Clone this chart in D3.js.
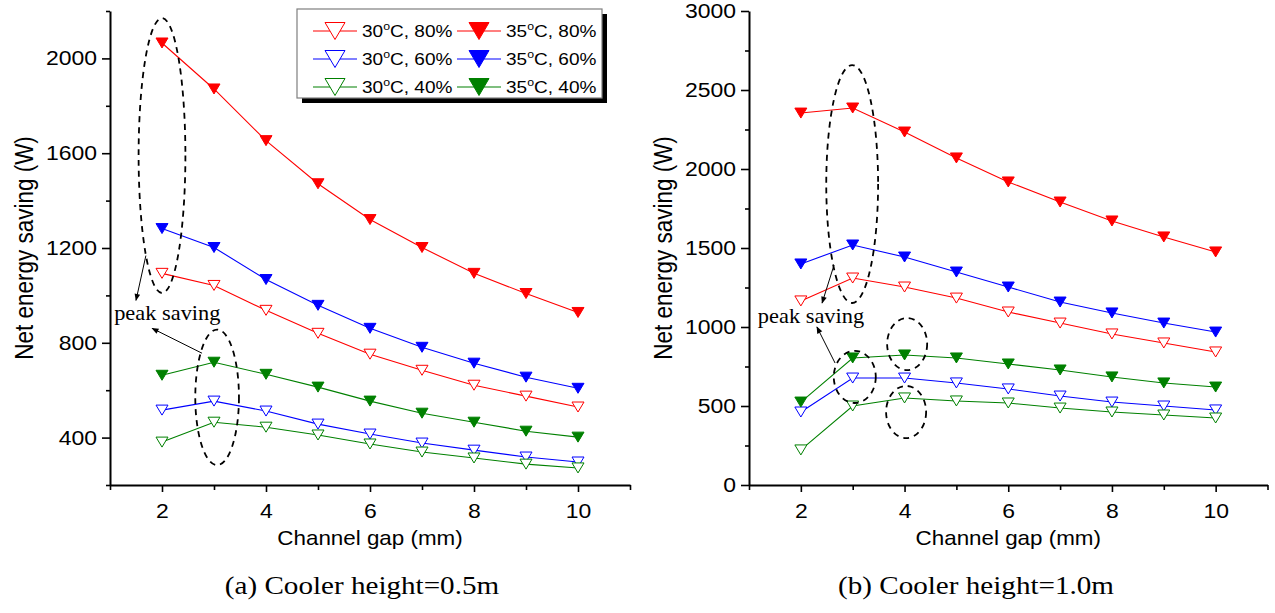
<!DOCTYPE html>
<html>
<head>
<meta charset="utf-8">
<script src="https://cdn.jsdelivr.net/npm/d3@7"></script>
<style>
  body { margin: 0; background: #fff; }
  text { fill: #000; }
</style>
</head>
<body>
<svg id="chart" width="1275" height="613"></svg>
<script>
// channel gap (mm)
const gaps = [2, 3, 4, 5, 6, 7, 8, 9, 10];
const seriesNames = ["30°C, 80%", "35°C, 80%", "30°C, 60%", "35°C, 60%", "30°C, 40%", "35°C, 40%"];
const seriesColors = ["#ff0000", "#ff0000", "#0000ff", "#0000ff", "#008000", "#008000"];
const seriesFilled = [false, true, false, true, false, true];

// (a) cooler height 0.5 m
const a_30_80 = [1093, 1042, 937, 840, 752, 684, 621, 575, 529];
const a_35_80 = [2065, 1871, 1653, 1471, 1320, 1202, 1093, 1008, 928];
const a_30_60 = [516, 554, 512, 457, 415, 377, 347, 318, 297];
const a_35_60 = [1282, 1202, 1067, 958, 861, 781, 714, 655, 608];
const a_30_40 = [381, 465, 444, 411, 373, 339, 314, 288, 272];
const a_35_40 = [663, 718, 667, 613, 554, 503, 465, 427, 402];

// (b) cooler height 1.0 m
const b_30_80 = [1165, 1310, 1253, 1183, 1095, 1025, 956, 899, 842];
const b_35_80 = [2354, 2386, 2234, 2070, 1918, 1791, 1671, 1570, 1475];
const b_30_60 = [462, 677, 677, 646, 608, 563, 525, 500, 475];
const b_35_60 = [1399, 1519, 1443, 1348, 1253, 1158, 1089, 1025, 968];
const b_30_40 = [222, 500, 551, 532, 519, 487, 462, 443, 424];
const b_35_40 = [525, 804, 823, 804, 766, 728, 684, 646, 620];

const xMajor = [2, 4, 6, 8, 10];
const xMinor = [1, 3, 5, 7, 9, 11];
const aMajor = [400, 800, 1200, 1600, 2000];
const aMinor = [200, 600, 1000, 1400, 1800, 2200];
const bMajor = [0, 500, 1000, 1500, 2000, 2500, 3000];
const bMinor = [250, 750, 1250, 1750, 2250, 2750];

// annotations in data units: dashed ellipses, arrows, label
const aEllipses = [{cx: 2.0, cy: 1590, rx: 0.45, ry: 580}, {cx: 3.06, cy: 570, rx: 0.42, ry: 286}];
const aArrows = [{x1: 1.69, y1: 1168, x2: 1.5, y2: 979}, {x1: 2.77, y1: 756, x2: 1.81, y2: 861}];
const aLabel = {x: 1.08, y: 895};
const bEllipses = [{cx: 2.99, cy: 1905, rx: 0.5, ry: 753}, {cx: 3.04, cy: 684, rx: 0.405, ry: 165},
                   {cx: 4.05, cy: 892, rx: 0.386, ry: 165}, {cx: 4.03, cy: 462, rx: 0.386, ry: 165}];
const bArrows = [{x1: 2.64, y1: 1392, x2: 2.41, y2: 1152}, {x1: 2.66, y1: 772, x2: 2.31, y2: 1000}];
const bLabel = {x: 1.17, y: 1025};

const SX = 1.12; // the picture is a little wider than tall
const sans = "'Liberation Sans', Arial, sans-serif";
const serif = "'Liberation Serif', 'Times New Roman', serif";
const svg = d3.select("#chart");

svg.append("defs").append("marker")
    .attr("id", "arrow")
    .attr("viewBox", "0 0 10 10")
    .attr("refX", 9).attr("refY", 5)
    .attr("markerWidth", 9).attr("markerHeight", 7)
    .attr("markerUnits", "userSpaceOnUse")
    .attr("orient", "auto")
  .append("path")
    .attr("d", "M0,1L10,5L0,9z")
    .attr("fill", "#000");

function stretch(sel) {
    sel.each(function() {
        const t = d3.select(this);
        const x = +t.attr("x") || 0, y = +t.attr("y") || 0;
        t.attr("x", 0).attr("y", 0)
         .attr("transform", `translate(${x},${y}) scale(${SX},1)`);
    });
}

function tri(w, h) {
    return `M${-w / 2},${-h / 2}L${w / 2},${-h / 2}L0,${h / 2}Z`;
}

function panel(opt) {
    const x = d3.scaleLinear().domain([1, 11]).range([opt.left, opt.right]);
    const y = d3.scaleLinear().domain(opt.yDomain).range([485, 11]);
    const g = svg.append("g");

    // minor ticks
    g.append("g").attr("transform", "translate(0,485)")
        .call(d3.axisBottom(x).tickValues(xMinor).tickSize(5).tickFormat("").tickSizeOuter(0))
        .call(s => s.select(".domain").remove());
    g.append("g").attr("transform", `translate(${opt.left},0)`)
        .call(d3.axisLeft(y).tickValues(opt.yMinor).tickSize(4).tickFormat("").tickSizeOuter(0))
        .call(s => s.select(".domain").remove());

    const gx = g.append("g").attr("transform", "translate(0,485)")
        .call(d3.axisBottom(x).tickValues(xMajor).tickSize(7).tickPadding(11)
            .tickFormat(d3.format("d")).tickSizeOuter(0));
    const gy = g.append("g").attr("transform", `translate(${opt.left},0)`)
        .call(d3.axisLeft(y).tickValues(opt.yMajor).tickSize(8).tickPadding(5)
            .tickFormat(d3.format("d")).tickSizeOuter(0));

    g.selectAll(".tick line").attr("stroke-width", 1.6);
    g.selectAll(".domain").attr("stroke-width", 2);
    [gx, gy].forEach(a => a.selectAll("text")
        .attr("font-family", sans)
        .attr("font-size", 20.5).attr("fill", "#000")
        .call(stretch));

    // axis titles
    g.append("text")
        .attr("x", (opt.left + opt.right) / 2).attr("y", 545)
        .attr("text-anchor", "middle")
        .attr("font-family", sans)
        .attr("font-size", 20)
        .text("Channel gap (mm)")
        .call(stretch);
    g.append("text")
        .attr("transform", `translate(${opt.left - 86},248) scale(${SX},1) rotate(-90)`)
        .attr("dy", "0.35em")
        .attr("text-anchor", "middle")
        .attr("font-family", sans)
        .attr("font-size", 22.5)
        .text("Net energy saving (W)");

    // series
    const line = d3.line().x((d, i) => x(gaps[i])).y(d => y(d));
    opt.series.forEach((vals, k) => {
        g.append("path")
            .datum(vals)
            .attr("fill", "none")
            .attr("stroke", seriesColors[k])
            .attr("stroke-width", 1.1)
            .attr("d", line);
    });
    opt.series.forEach((vals, k) => {
        g.selectAll(null)
            .data(vals)
            .enter().append("path")
            .attr("transform", (d, i) => `translate(${x(gaps[i])},${y(d)})`)
            .attr("d", tri(12, 10))
            .attr("fill", seriesFilled[k] ? seriesColors[k] : "#fff")
            .attr("stroke", seriesColors[k])
            .attr("stroke-width", 1);
    });

    // annotations
    g.selectAll(null)
        .data(opt.ellipses)
        .enter().append("ellipse")
        .attr("cx", d => x(d.cx)).attr("cy", d => y(d.cy))
        .attr("rx", d => x(1 + d.rx) - x(1))
        .attr("ry", d => y(0) - y(d.ry))
        .attr("fill", "none")
        .attr("stroke", "#000")
        .attr("stroke-width", 1.8)
        .attr("stroke-dasharray", "6,5");
    g.selectAll(null)
        .data(opt.arrows)
        .enter().append("line")
        .attr("x1", d => x(d.x1)).attr("y1", d => y(d.y1))
        .attr("x2", d => x(d.x2)).attr("y2", d => y(d.y2))
        .attr("stroke", "#000")
        .attr("stroke-width", 1)
        .attr("marker-end", "url(#arrow)");
    g.append("text")
        .attr("x", x(opt.label.x)).attr("y", y(opt.label.y))
        .attr("font-family", serif)
        .attr("font-size", 20)
        .text("peak saving")
        .call(stretch);

    // caption
    svg.append("text")
        .attr("x", opt.captionX).attr("y", 594)
        .attr("text-anchor", "middle")
        .attr("font-family", serif)
        .attr("font-size", 26)
        .text(opt.caption)
        .call(stretch);
}

panel({
    left: 110, right: 630, yDomain: [200, 2200], yMajor: aMajor, yMinor: aMinor,
    series: [a_30_80, a_35_80, a_30_60, a_35_60, a_30_40, a_35_40],
    ellipses: aEllipses, arrows: aArrows, label: aLabel,
    caption: "(a) Cooler height=0.5m", captionX: 362
});
panel({
    left: 749, right: 1267.5, yDomain: [0, 3000], yMajor: bMajor, yMinor: bMinor,
    series: [b_30_80, b_35_80, b_30_60, b_35_60, b_30_40, b_35_40],
    ellipses: bEllipses, arrows: bArrows, label: bLabel,
    caption: "(b) Cooler height=1.0m", captionX: 976
});

// legend (inside panel a)
const lg = svg.append("g");
lg.append("rect").attr("x", 302).attr("y", 14).attr("width", 305).attr("height", 89).attr("fill", "#000");
lg.append("rect").attr("x", 297).attr("y", 9).attr("width", 305).attr("height", 89)
    .attr("fill", "#fff").attr("stroke", "#7f7f7f").attr("stroke-width", 1.2);
const colX = [313, 457];
seriesNames.forEach((name, k) => {
    const cx = colX[k % 2], cy = 31 + Math.floor(k / 2) * 28;
    lg.append("line").attr("x1", cx).attr("x2", cx + 44).attr("y1", cy).attr("y2", cy)
        .attr("stroke", seriesColors[k]).attr("stroke-width", 1.1);
    lg.append("path").attr("transform", `translate(${cx + 22},${cy})`)
        .attr("d", tri(20, 17))
        .attr("fill", seriesFilled[k] ? seriesColors[k] : "#fff")
        .attr("stroke", seriesColors[k]).attr("stroke-width", 1);
    const parts = name.split("°");
    const t = lg.append("text").attr("x", cx + 49).attr("y", cy + 6)
        .attr("font-family", sans)
        .attr("font-size", 17);
    t.append("tspan").text(parts[0]);
    t.append("tspan").attr("dy", -7).attr("font-size", 11).text("o");
    t.append("tspan").attr("dy", 7).text(parts[1]);
    t.call(stretch);
});
</script>
</body>
</html>
